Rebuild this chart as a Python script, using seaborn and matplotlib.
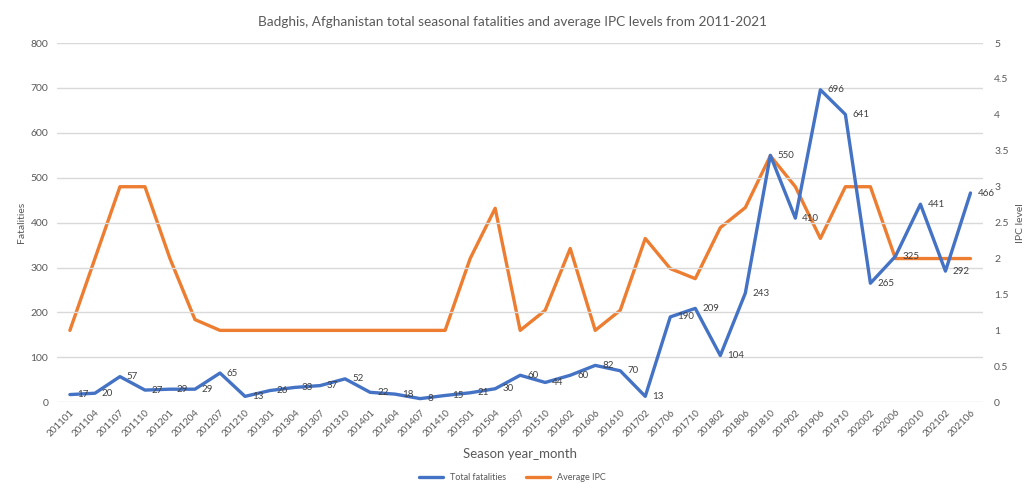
import matplotlib
matplotlib.use("Agg")
import matplotlib.pyplot as plt
import seaborn as sns
import pandas as pd
from matplotlib.ticker import FormatStrFormatter, MultipleLocator
from matplotlib.lines import Line2D

seasons = [
    "201101", "201104", "201107", "201110", "201201", "201204", "201207", "201210",
    "201301", "201304", "201307", "201310", "201401", "201404", "201407", "201410",
    "201501", "201504", "201507", "201510", "201602", "201606", "201610", "201702",
    "201706", "201710", "201802", "201806", "201810", "201902", "201906", "201910",
    "202002", "202006", "202010", "202102", "202106",
]
fatalities = [
    17, 20, 57, 27, 29, 29, 65, 13,
    26, 33, 37, 52, 22, 18, 8, 15,
    21, 30, 60, 44, 60, 82, 70, 13,
    190, 209, 104, 243, 550, 410, 696, 641,
    265, 325, 441, 292, 466,
]
avg_ipc = [
    1.0, 2.0, 3.0, 3.0, 2.0, 1.15, 1.0, 1.0,
    1.0, 1.0, 1.0, 1.0, 1.0, 1.0, 1.0, 1.0,
    2.0, 2.7, 1.0, 1.28, 2.14, 1.0, 1.28, 2.28,
    1.86, 1.72, 2.43, 2.71, 3.43, 3.0, 2.28, 3.0,
    3.0, 2.0, 2.0, 2.0, 2.0,
]

df = pd.DataFrame({"season": seasons, "fatalities": fatalities, "ipc": avg_ipc})
df["pos"] = range(len(df))

BLUE = "#4472C4"
ORANGE = "#ED7D31"
TEXT = "#595959"
GRID = "#D9D9D9"

sns.set_style("white")
plt.rcParams["font.family"] = ["Lato", "DejaVu Sans"]

fig = plt.figure(figsize=(10.25, 4.84), dpi=100)
ax = fig.add_axes([0.056, 0.169, 0.903, 0.742])
ax2 = ax.twinx()

sns.lineplot(data=df, x="pos", y="fatalities", ax=ax, color=BLUE, linewidth=2.4,
             sort=False, zorder=3)
sns.lineplot(data=df, x="pos", y="ipc", ax=ax2, color=ORANGE, linewidth=2.4,
             sort=False, zorder=2)

# put the fatalities axis (and its line) on top of the IPC axis
ax.set_zorder(ax2.get_zorder() + 1)
ax.patch.set_visible(False)

n = len(seasons)
ax.set_xlim(-0.5, n - 0.5)
ax.set_ylim(0, 800)
ax.yaxis.set_major_locator(MultipleLocator(100))
ax2.set_ylim(0, 5)
ax2.yaxis.set_major_locator(MultipleLocator(0.5))
ax2.yaxis.set_major_formatter(FormatStrFormatter("%g"))

ax.set_xticks(range(n))
ax.set_xticklabels(seasons, rotation=45, ha="right", rotation_mode="anchor",
                   fontsize=7, color=TEXT)
ax.tick_params(axis="x", length=0, pad=4)
ax.tick_params(axis="y", length=0, labelsize=7.5, labelcolor=TEXT, pad=6.5)
ax2.tick_params(axis="y", length=0, labelsize=7.5, labelcolor=TEXT, pad=8)

ax.grid(axis="y", color=GRID, linewidth=1)
ax.grid(axis="x", visible=False)
ax2.grid(False)
for a in (ax, ax2):
    for s in a.spines.values():
        s.set_visible(False)

ax.set_xlabel("Season year_month", fontsize=9.5, color=TEXT, labelpad=7)
ax.set_ylabel("Fatalities", fontsize=7.5, color=TEXT, labelpad=3)
ax2.set_ylabel("IPC level", fontsize=7.5, color=TEXT, rotation=90, labelpad=5)

for i, v in enumerate(fatalities):
    ax.annotate(str(v), (i, v), xytext=(5, 0), textcoords="offset points",
                ha="left", va="center", fontsize=7, color="#404040", zorder=5)

fig.text(0.5, 0.955, "Badghis, Afghanistan total seasonal fatalities and average IPC levels from 2011-2021",
         ha="center", va="center", fontsize=9.8, color=TEXT)

handles = [Line2D([], [], color=BLUE, linewidth=2.4),
           Line2D([], [], color=ORANGE, linewidth=2.4)]
fig.legend(handles, ["Total fatalities", "Average IPC"], loc="center",
           bbox_to_anchor=(0.5, 0.014), ncol=2, frameon=False, fontsize=6.5,
           handlelength=2.6, columnspacing=2.2, labelcolor=TEXT)

fig.savefig("out.png", dpi=100)
